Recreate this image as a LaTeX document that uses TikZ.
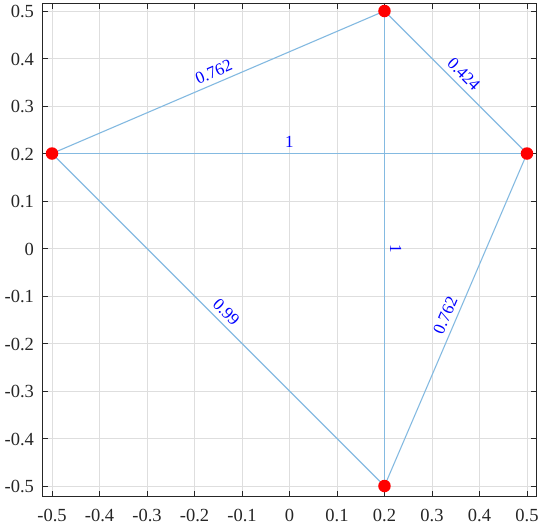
\documentclass[tikz,border=0pt]{standalone}
\usepackage{fontspec}
\setmainfont{Liberation Serif}
\definecolor{edgeblue}{RGB}{132,186,225}
\definecolor{gridgray}{RGB}{222,222,222}
\definecolor{axisdark}{RGB}{38,38,38}
\definecolor{marker}{RGB}{255,0,0}
\begin{document}
\begin{tikzpicture}[x=475pt,y=475pt,
  gridline/.style={gridgray,line width=0.6pt},
  axisline/.style={axisdark,line width=0.9pt},
  tickline/.style={axisdark,line width=0.9pt},
  ticklab/.style={font=\fontsize{18.5}{20}\selectfont,text=axisdark,inner sep=0pt},
  edgeline/.style={edgeblue,line width=1.1pt},
  edgelab/.style={font=\fontsize{17}{19}\selectfont,text=blue,anchor=south,inner sep=5pt},
  vertex/.style={circle,fill=marker,inner sep=0pt,minimum size=12.5pt}]
\useasboundingbox (-0.6095,-0.5842) rectangle (0.5295,0.5232);
% grid
\foreach \v in {-0.5,-0.4,...,0.51} {
  \draw[gridline] (\v,-0.521) -- (\v,0.515);
  \draw[gridline] (-0.52,\v) -- (0.519,\v);
}
% ticks
\foreach \v in {-0.5,-0.4,...,0.51} {
  \draw[tickline] (\v,-0.521) -- ++(0,5pt);
  \draw[tickline] (\v,0.515) -- ++(0,-5pt);
  \draw[tickline] (-0.52,\v) -- ++(5pt,0);
  \draw[tickline] (0.519,\v) -- ++(-5pt,0);
}
% tick labels
\foreach \v/\t in {-0.5/-0.5,-0.4/-0.4,-0.3/-0.3,-0.2/-0.2,-0.1/-0.1,0/0,0.1/0.1,0.2/0.2,0.3/0.3,0.4/0.4,0.5/0.5} {
  \node[ticklab,anchor=base] (xl\t) at (\v,-0.5737) {\t};
  \node[ticklab,anchor=base east] (yl\t) at (-0.5375,\v-0.0147) {\t};
}
% axes box
\draw[axisline] (-0.52,-0.521) rectangle (0.519,0.515);
% vertices
\coordinate (A) at (-0.5,0.2);
\coordinate (B) at (0.2,0.5);
\coordinate (C) at (0.5,0.2);
\coordinate (D) at (0.2,-0.5);
% edges
\draw[edgeline] (A) -- (B) node[midway,edgelab,rotate=23.2] (l1) {0.762};
\draw[edgeline] (B) -- (C) node[midway,edgelab,rotate=-45] (l2) {0.424};
\draw[edgeline] (A) -- (C) node[midway,edgelab,rotate=0] (l3) {1};
\draw[edgeline] (B) -- (D) node[midway,edgelab,rotate=-90] (l4) {1};
\draw[edgeline] (A) -- (D) node[midway,edgelab,rotate=-45] (l5) {0.99};
\draw[edgeline] (D) -- (C) node[midway,edgelab,rotate=66.8] (l6) {0.762};
\node[vertex] (vA) at (A) {};
\node[vertex] (vB) at (B) {};
\node[vertex] (vC) at (C) {};
\node[vertex] (vD) at (D) {};
\end{tikzpicture}
\end{document}
